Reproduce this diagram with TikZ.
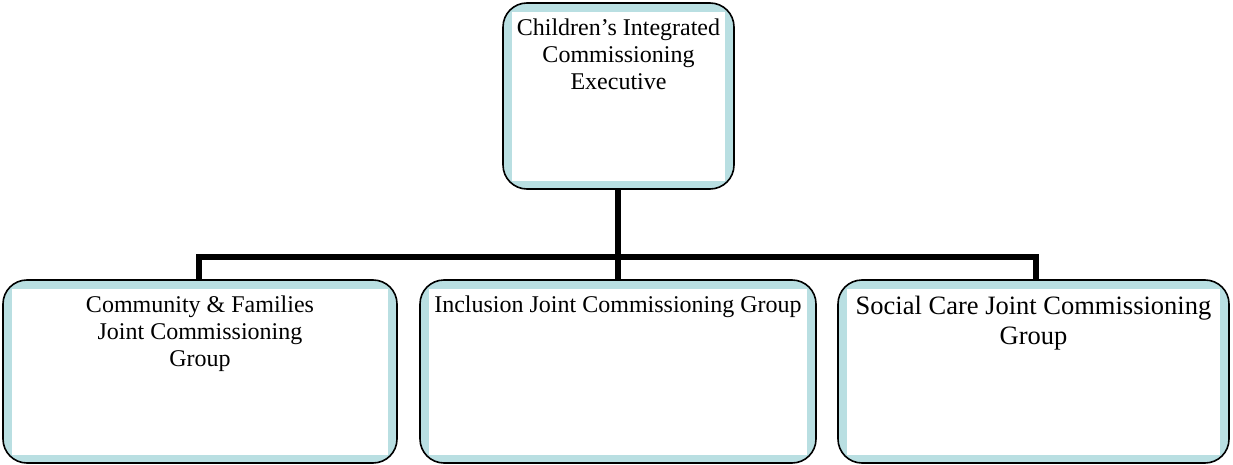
\documentclass[tikz,border=0pt]{standalone}
\usepackage{fontspec}
\setmainfont{Liberation Serif}
\definecolor{boxblue}{HTML}{B9DFE2}
\begin{document}
\begin{tikzpicture}[x=1pt,y=-1pt,
  orgbox/.style={draw=black, line width=1.6pt, rounded corners=24pt,
    fill=boxblue, inner sep=0pt},
  panel/.style={fill=white, sharp corners},
  lbl/.style={font=\fontsize{24}{27}\selectfont, align=center, inner sep=0pt},
  biglbl/.style={font=\fontsize{26.5}{29.5}\selectfont, align=center, inner sep=0pt},
  conn/.style={draw=black, line width=5.5pt}]
\useasboundingbox (0,0) rectangle (1233,465);

% connectors, drawn first so the boxes sit on top of their ends
\coordinate (hub) at (618,257);
\coordinate (execB) at (618,189);
\coordinate (cfT0) at (199,281);
\coordinate (icT0) at (618,281);
\coordinate (scT0) at (1036,281);
\draw[conn] (execB) -- (icT0);
\draw[conn] (cfT0) |- (hub) -| (scT0);

% boxes
\node[orgbox, minimum width=231pt, minimum height=186pt] (exec) at (618.5,96) {};
\node[orgbox, minimum width=394pt, minimum height=183pt] (cf) at (200,371.5) {};
\node[orgbox, minimum width=396pt, minimum height=183pt] (ic) at (618,371.5) {};
\node[orgbox, minimum width=391pt, minimum height=183pt] (sc) at (1033.5,371.5) {};

% white inner panels
\foreach \b in {exec,cf,ic,sc}
  \fill[panel] ([shift={(9.5,10)}]\b.north west) rectangle ([shift={(-9.5,-8.5)}]\b.south east);

% labels
\node[lbl, anchor=north] (execT) at ([yshift=-16pt]exec.north)
  {Children’s Integrated\\Commissioning\\Executive};
\node[lbl, anchor=north] (cfT) at ([yshift=-16pt]cf.north)
  {Community \& Families\\Joint Commissioning\\Group};
\node[lbl, anchor=north] (icT) at ([yshift=-16pt]ic.north)
  {Inclusion Joint Commissioning Group};
\node[biglbl, anchor=north] (scT) at ([yshift=-17pt]sc.north)
  {Social Care Joint Commissioning\\Group};
\end{tikzpicture}
\end{document}
